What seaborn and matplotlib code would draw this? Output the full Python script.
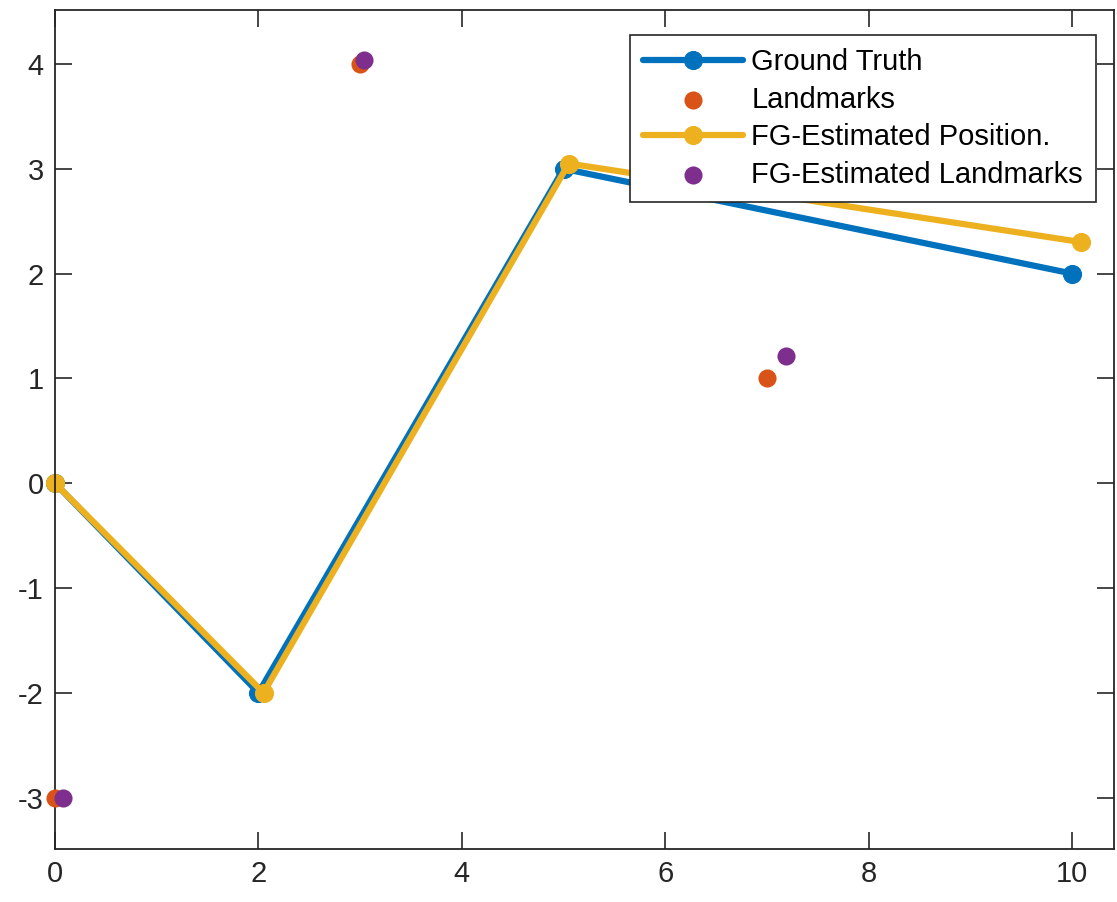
import matplotlib
matplotlib.use("Agg")
import matplotlib.pyplot as plt
import seaborn as sns
import pandas as pd

# Data
gt_x = [0, 2, 5, 10]
gt_y = [0, -2, 3, 2]
lm_x = [0, 3, 7]
lm_y = [-3, 4, 1]
est_x = [0, 2.05, 5.05, 10.09]
est_y = [0, -2.0, 3.05, 2.30]
elm_x = [0.08, 3.04, 7.19]
elm_y = [-3.0, 4.04, 1.21]

x_ticks = [0, 2, 4, 6, 8, 10]
y_ticks = [-3, -2, -1, 0, 1, 2, 3, 4]

sns.set_theme(style="white")
plt.rcParams['font.family'] = ['Liberation Sans', 'DejaVu Sans']

BLUE = "#0072BD"
ORANGE = "#D95319"
YELLOW = "#EDB120"
PURPLE = "#7E2F8E"
AXC = "#262626"

fig = plt.figure(figsize=(11.17, 9.02), dpi=100)
ax = fig.add_axes([55/1117, 53/902, (1114-55)/1117, (849-10)/902])

gt = pd.DataFrame({"x": gt_x, "y": gt_y})
lm = pd.DataFrame({"x": lm_x, "y": lm_y})
est = pd.DataFrame({"x": est_x, "y": est_y})
elm = pd.DataFrame({"x": elm_x, "y": elm_y})

sns.lineplot(data=gt, x="x", y="y", sort=False, ax=ax, color=BLUE, linewidth=4.5,
             marker="o", markersize=13, markeredgecolor=BLUE, label="Ground Truth",
             clip_on=False)
sns.scatterplot(data=lm, x="x", y="y", ax=ax, color=ORANGE, s=170, edgecolor=ORANGE,
                linewidth=0, label="Landmarks", zorder=3, clip_on=False)
sns.lineplot(data=est, x="x", y="y", sort=False, ax=ax, color=YELLOW, linewidth=4.5,
             marker="o", markersize=13, markeredgecolor=YELLOW, label="FG-Estimated Position.",
             clip_on=False)
sns.scatterplot(data=elm, x="x", y="y", ax=ax, color=PURPLE, s=170, edgecolor=PURPLE,
                linewidth=0, label="FG-Estimated Landmarks", zorder=4, clip_on=False)

ax.set_xlim(0, 10.41)
ax.set_ylim(-3.49, 4.515)
ax.set_xticks(x_ticks)
ax.set_yticks(y_ticks)
ax.set_xticklabels([str(v) for v in x_ticks])
ax.set_yticklabels([str(v) for v in y_ticks])
ax.set_xlabel("")
ax.set_ylabel("")

for s in ax.spines.values():
    s.set_visible(True)
    s.set_color(AXC)
    s.set_linewidth(1.3)
ax.tick_params(direction="in", length=12, width=1.2, color=AXC, labelsize=21,
               labelcolor=AXC, top=True, right=True, bottom=True, left=True, pad=8)

leg = ax.legend(loc="upper right", bbox_to_anchor=((1096-55)/(1114-55), (849-35)/(849-10)),
                fontsize=21, frameon=True, fancybox=False, handlelength=3.4, framealpha=1,
                borderpad=0.45, labelspacing=0.33, handletextpad=0.3, borderaxespad=0)
leg.get_frame().set_edgecolor(AXC)
leg.get_frame().set_facecolor("white")
leg.get_frame().set_linewidth(1.2)
leg.set_zorder(10)
for t in leg.get_texts():
    t.set_color("black")

fig.savefig("out.png", dpi=100, facecolor="white")
